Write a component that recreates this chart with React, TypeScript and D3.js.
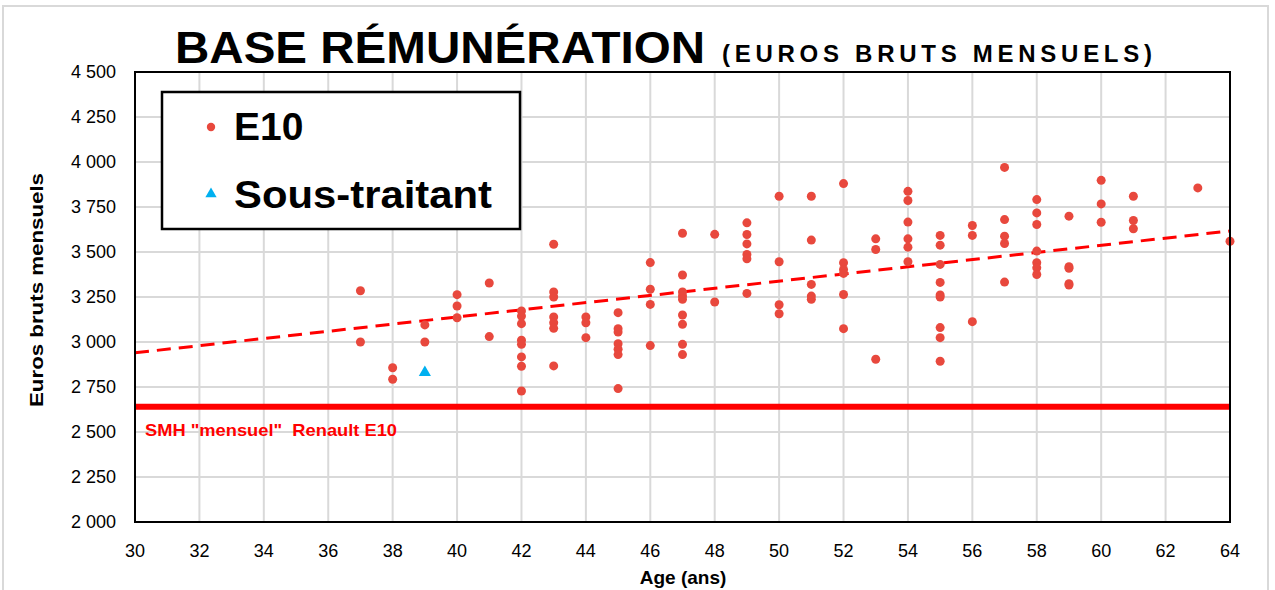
import React from "react";
import * as d3 from "d3";

// E10 salaries, grouped by age (euros bruts mensuels)
const e10Ages = [37, 38, 39, 40, 41, 42, 43, 44, 45, 46, 47, 48, 49, 50, 51, 52, 53, 54, 55, 56, 57, 58, 59, 60, 61, 63, 64];
const e10Values = [
  [3285, 3000],
  [2857, 2793],
  [3095, 3000],
  [3263, 3200, 3135],
  [3328, 3030],
  [3172, 3144, 3102, 3010, 2987, 2917, 2865, 2728],
  [3543, 3278, 3250, 3139, 3107, 3076, 2867],
  [3139, 3107, 3024],
  [3163, 3074, 3055, 2990, 2960, 2930, 2741],
  [3441, 3293, 3209, 2980],
  [3604, 3372, 3278, 3256, 3237, 3150, 3098, 2987, 2930],
  [3598, 3222],
  [3662, 3597, 3545, 3486, 3462, 3270],
  [3810, 3446, 3207, 3157],
  [3810, 3566, 3320, 3255, 3237],
  [3880, 3440, 3403, 3381, 3264, 3074],
  [3573, 3514, 2904],
  [3837, 3786, 3666, 3573, 3527, 3446],
  [3592, 3538, 3431, 3331, 3261, 3250, 3080, 3024, 2893],
  [3647, 3592, 3113],
  [3970, 3680, 3588, 3547, 3333],
  [3791, 3717, 3653, 3505, 3440, 3412, 3375],
  [3699, 3418, 3410, 3324, 3316],
  [3898, 3767, 3665],
  [3810, 3675, 3629],
  [3856],
  [3560],
];

const sousTraitantAges = [39];
const sousTraitantValues = [2830];

// dashed trend line as read on the chart
const trendAges = [30, 64];
const trendValues = [2940, 3617];

const smhValue = 2640;
const xTicks = d3.range(30, 65, 2);
const yTicks = d3.range(2000, 4501, 250);

const font = "'Liberation Sans', Arial, sans-serif";
const red = "#e8483d";
const blue = "#00b0f0";

export default function App() {
  const width = 1275;
  const height = 590;
  const left = 135;
  const right = 1230;
  const top = 72;
  const bottom = 522;

  const x = d3.scaleLinear().domain([30, 64]).range([left, right]);
  const y = d3.scaleLinear().domain([2000, 4500]).range([bottom, top]);

  const points = e10Ages.flatMap((a, i) => e10Values[i].map((v) => [a, v]));

  const trend = d3
    .line()
    .x((d) => x(d[0]))
    .y((d) => y(d[1]))(trendAges.map((a, i) => [a, trendValues[i]]));

  const fmt = (v) => d3.format(",")(v).replace(",", " ");
  const tri = d3.symbol().type(d3.symbolTriangle).size(64)();
  const triSmall = d3.symbol().type(d3.symbolTriangle).size(55)();

  return (
    <svg width={width} height={height} style={{ display: "block", position: "absolute", left: 0, top: 0 }} fontFamily={font}>
      <rect x={0} y={0} width={width} height={height} fill="#fff" />
      <rect x={3} y={6} width={1265} height={620} fill="none" stroke="#d9d9d9" strokeWidth={2} />

      {/* title */}
      <text x={175} y={63} fontSize={45} fontWeight="bold" textLength={530} lengthAdjust="spacingAndGlyphs">
        BASE RÉMUNÉRATION
      </text>
      <text x={722} y={62} fontSize={24} fontWeight="bold" textLength={430} lengthAdjust="spacing">
        (EUROS BRUTS MENSUELS)
      </text>

      {/* grid */}
      {xTicks.map((t) => (
        <line key={"gx" + t} x1={x(t)} x2={x(t)} y1={top} y2={bottom} stroke="#d9d9d9" strokeWidth={2} />
      ))}
      {yTicks.map((t) => (
        <line key={"gy" + t} x1={left} x2={right} y1={y(t)} y2={y(t)} stroke="#d9d9d9" strokeWidth={2} />
      ))}

      {/* SMH line */}
      <line x1={left} x2={right} y1={y(smhValue)} y2={y(smhValue)} stroke="#ff0000" strokeWidth={6} />
      <text x={145} y={436} fontSize={17} fontWeight="bold" fill="#ff0000" textLength={252} lengthAdjust="spacingAndGlyphs" style={{ whiteSpace: "pre" }}>
        {'SMH "mensuel"  Renault E10'}
      </text>

      {/* trend */}
      <path d={trend} fill="none" stroke="#ff0000" strokeWidth={3} strokeDasharray="14,8" />

      {/* points */}
      {points.map((p, i) => (
        <circle key={"p" + i} cx={x(p[0])} cy={y(p[1])} r={4.5} fill={red} />
      ))}
      {sousTraitantAges.map((a, i) => (
        <path key={"s" + i} d={tri} transform={`translate(${x(a)},${y(sousTraitantValues[i])})`} fill={blue} />
      ))}

      {/* frame */}
      <rect x={left} y={top} width={right - left} height={bottom - top} fill="none" stroke="#000" strokeWidth={2} />

      {/* y axis */}
      {yTicks.map((t) => (
        <text key={"ty" + t} x={116} y={y(t)} dy="0.35em" textAnchor="end" fontSize={18}>
          {fmt(t)}
        </text>
      ))}
      <text transform={`translate(43,290) rotate(-90)`} textAnchor="middle" fontSize={19} fontWeight="bold" textLength={234} lengthAdjust="spacingAndGlyphs">
        Euros bruts mensuels
      </text>

      {/* x axis */}
      {xTicks.map((t) => (
        <text key={"tx" + t} x={x(t)} y={557} textAnchor="middle" fontSize={18}>
          {t}
        </text>
      ))}
      <text x={683} y={584} textAnchor="middle" fontSize={19} fontWeight="bold">
        Age (ans)
      </text>

      {/* legend */}
      <rect x={162} y={92} width={358} height={137} fill="#fff" stroke="#000" strokeWidth={2.5} />
      <circle cx={211} cy={127} r={4.2} fill={red} />
      <text x={234} y={140} fontSize={39} fontWeight="bold">
        E10
      </text>
      <path d={triSmall} transform="translate(211,194)" fill={blue} />
      <text x={234} y={208} fontSize={39} fontWeight="bold" textLength={258} lengthAdjust="spacingAndGlyphs">
        Sous-traitant
      </text>
    </svg>
  );
}
